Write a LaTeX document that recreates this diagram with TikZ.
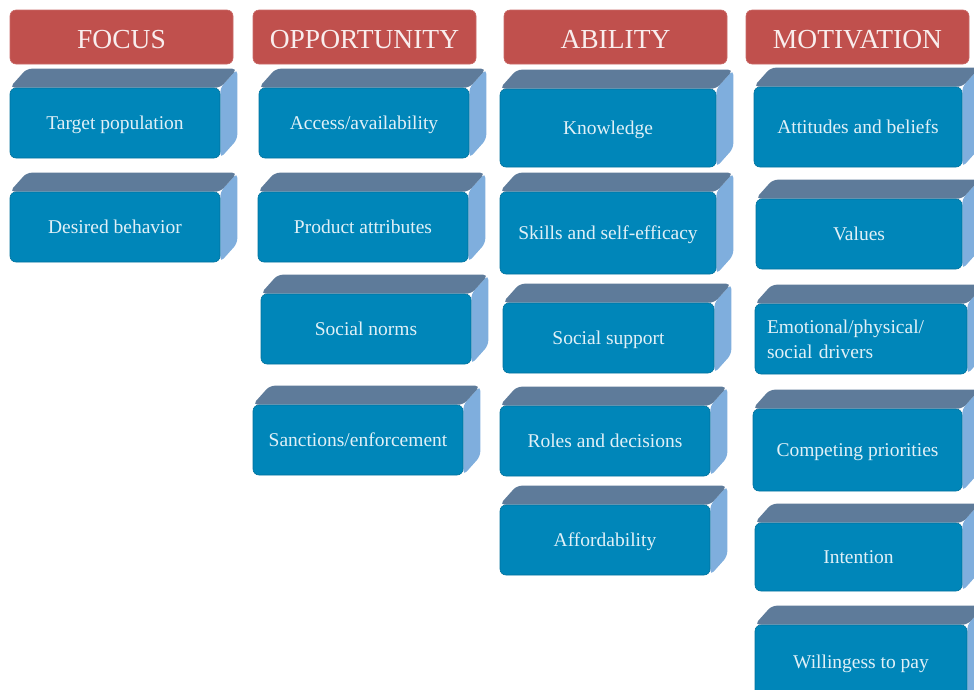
\documentclass[tikz,border=0pt]{standalone}
\usepackage{fontspec}
\setmainfont{Liberation Serif}
\usetikzlibrary{backgrounds}

\definecolor{hdrred}{HTML}{C0504D}
\definecolor{frontblue}{HTML}{0086B9}
\definecolor{topslate}{HTML}{5E7B9A}
\definecolor{sidesky}{HTML}{7FAEDD}

\tikzset{
  header/.style={fill=hdrred, draw=hdrred!85!white, line width=0.6pt,
    rounded corners=6pt, text=white!90!hdrred, inner sep=0pt,
    text height=23pt, text depth=0pt,
    font=\fontsize{27.5}{30}\selectfont},
  front/.style={fill=frontblue, draw=frontblue!85!black, line width=0.6pt,
    rounded corners=6pt, text=white!88!frontblue, inner sep=0pt,
    align=center, text height=16.5pt, text depth=4pt,
    font=\fontsize{19.5}{25}\selectfont},
  topface/.style={fill=topslate, rounded corners=5pt},
  sideface/.style={fill=sidesky, rounded corners=5pt},
}

% header bar: name, left, top, right, bottom, text
\newcommand\hdrbox[6]{%
  \node[header, minimum width={#4pt-#2pt}, minimum height={#5pt-#3pt}]
    (#1) at ({(#2+#4)/2},{(#3+#5)/2}) {#6};}

% 3-D block: [options], name, left, top, right, bottom, text
\newcommand\cubebox[7][]{%
  \node[front, minimum width={#5pt-#3pt}, minimum height={#6pt-#4pt}, #1]
    (#2) at ({(#3+#5)/2},{(#4+#6)/2}) {#7};
  \begin{scope}[on background layer]
    \path[sideface] (#2.north east) -- ++(17,-19)
      -- ([shift={(17,-19)}]#2.south east) -- (#2.south east) -- cycle;
    \path[topface] (#2.north west) -- ++(17,-19)
      -- ([shift={(17,-19)}]#2.north east) -- (#2.north east) -- cycle;
  \end{scope}}

\begin{document}
\begin{tikzpicture}[x=1pt,y=-1pt]
  \useasboundingbox (0,0) rectangle (974,689);
  \clip (0,0) rectangle (974,689);

  % FOCUS
  \hdrbox{focus}{10}{10}{233}{64}{FOCUS}
  \cubebox{tp}{10}{88}{220}{158}{Target population}
  \cubebox{db}{10}{192}{220}{262}{Desired behavior}

  % OPPORTUNITY
  \hdrbox{opp}{253}{10}{476}{64}{OPPORTUNITY}
  \cubebox{aa}{259}{88}{469}{158}{Access/availability}
  \cubebox{pa}{258}{192}{468}{262}{Product attributes}
  \cubebox{sn}{261}{294}{471}{364}{Social norms}
  \cubebox{se}{253}{405}{463}{475}{Sanctions/enforcement}

  % ABILITY
  \hdrbox{abil}{504}{10}{727}{64}{ABILITY}
  \cubebox{kn}{500}{89}{716}{167}{Knowledge}
  \cubebox{sk}{500}{192}{716}{274}{Skills and self-efficacy}
  \cubebox{ss}{503}{303}{714}{373}{Social support}
  \cubebox{rd}{500}{406}{710}{476}{Roles and decisions}
  \cubebox{af}{500}{505}{710}{575}{Affordability}

  % MOTIVATION
  \hdrbox{mot}{746}{10}{969}{64}{MOTIVATION}
  \cubebox{ab}{754}{87}{962}{167}{Attitudes and beliefs}
  \cubebox{va}{756}{199}{962}{269}{Values}
  \cubebox[text width=188pt, align=left, text height=, text depth=]{ep}{755}{304}{967}{374}{Emotional/physical/\\social drivers}
  \cubebox{cp}{753}{409}{962}{491}{Competing priorities}
  \cubebox{in}{755}{523}{962}{591}{Intention}
  \cubebox{wp}{755}{625}{967}{699}{Willingess to pay}
\end{tikzpicture}
\end{document}
